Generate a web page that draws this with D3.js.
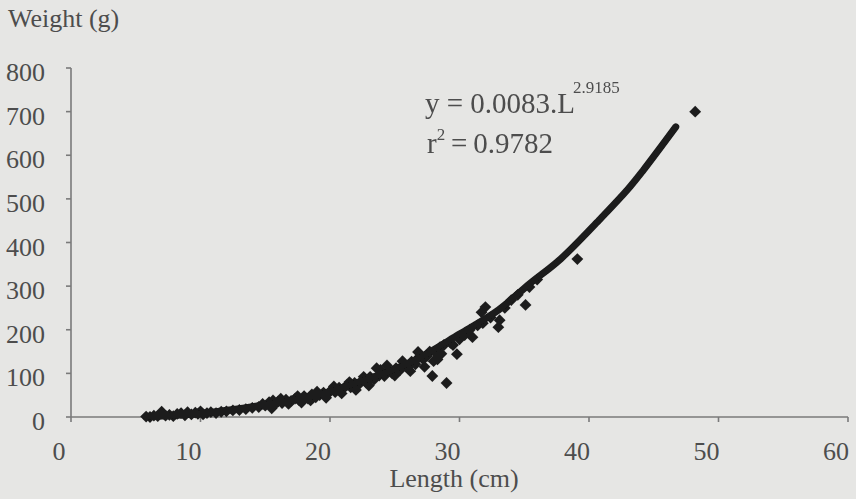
<!DOCTYPE html>
<html>
<head>
<meta charset="utf-8">
<script src="https://cdn.jsdelivr.net/npm/d3@7"></script>
<style>
    body { margin: 0; background: #e6e6e4; }
    text { font-family: "Liberation Serif", "Times New Roman", serif; fill: #4d4d4d; }
</style>
</head>
<body>
<div id="svg-area"></div>
<script>
// observed fish, length (cm) and weight (g)
const lengths = [
    5.8, 6.1, 6.4, 6.7, 7.0, 7.3, 7.6, 7.9, 8.2, 8.5,
    8.8, 9.0, 9.3, 9.6, 9.8, 10.0, 10.2, 10.5, 10.8, 11.2,
    11.6, 12.0, 12.5, 13.0, 13.5, 14.0, 14.5, 15.0, 15.3, 15.6,
    15.8, 16.0, 16.3, 16.6, 17.0, 17.3, 17.6, 18.0, 18.3, 18.6,
    18.9, 19.2, 19.5, 19.8, 20.1, 20.4, 20.7, 21.0, 21.3, 21.6,
    21.9, 22.2, 22.5, 22.8, 23.1, 23.4, 23.6, 23.9, 24.2, 24.5,
    24.8, 25.1, 25.4, 25.7, 26.0, 26.3, 26.6, 26.8, 27.2, 27.5,
    27.7, 27.9, 28.0, 28.2, 28.5, 28.8, 29.0, 29.3, 29.8, 30.0,
    30.4, 31.0, 31.4, 31.7, 32.0, 32.4, 33.0, 33.1, 33.5, 34.0,
    34.5, 35.1, 35.4, 36.0, 39.1, 48.2,
    14.8, 15.5, 16.2, 16.8, 17.5, 17.8, 18.5, 19.0, 19.7, 20.3,
    20.9, 21.5, 22.0, 22.6, 23.0, 23.8, 24.4, 25.0, 25.6, 26.2,
    26.9, 27.3, 28.3, 28.6, 29.5, 30.8, 31.8
]
const weights = [
    1, 0, 3, 2, 12, 3, 5, 2, 7, 9,
    4, 11, 6, 10, 7, 13, 6, 9, 11, 9,
    12, 13, 15, 16, 18, 21, 23, 26, 34, 38,
    30, 36, 32, 40, 37, 42, 39, 48, 42, 52,
    45, 50, 56, 52, 62, 57, 67, 64, 73, 68,
    78, 74, 84, 79, 92, 86, 112, 108, 94, 105,
    100, 112, 107, 120, 114, 127, 121, 149, 132, 140,
    150, 94, 128, 146, 160, 165, 78, 170, 144, 178,
    188, 183, 210, 240, 252, 228, 206, 222, 250, 268,
    280, 257, 298, 315, 362, 700,
    30, 20, 42, 30, 48, 33, 38, 58, 44, 70,
    54, 80, 62, 92, 72, 95, 118, 95, 128, 105,
    138, 115, 132, 145, 165, 200, 215
]

// fitted power curve
const fitLengths = [5.8, 10, 15, 19, 22.5, 26.2, 30, 33, 35.4, 37.8, 40.8, 43, 44.2, 46.7]
const fitWeights = [1, 8, 28, 50, 83, 125, 190, 245, 305, 362, 452, 522, 566, 665]

const xTicks = [0, 10, 20, 30, 40, 50, 60]
const yTicks = [0, 100, 200, 300, 400, 500, 600, 700, 800]

const width = 856,
    height = 499

const svg = d3.select("#svg-area").append("svg")
        .attr("width", width)
        .attr("height", height)

svg.append("defs").append("filter")
        .attr("id", "soft")
        .append("feGaussianBlur")
        .attr("stdDeviation", 0.6)

const x = d3.scaleLinear().domain([0, 60]).range([71, 848])
const y = d3.scaleLinear().domain([0, 800]).range([417, 68])

const axisColor = "#7a7a7a"

// y axis
svg.append("line")
        .attr("x1", x(0)).attr("x2", x(0))
        .attr("y1", y(800)).attr("y2", y(0))
        .attr("stroke", axisColor).attr("stroke-width", 1.6)
svg.selectAll(".ytick")
        .data(yTicks)
        .enter()
        .append("line")
        .attr("x1", x(0) - 5).attr("x2", x(0))
        .attr("y1", d => y(d)).attr("y2", d => y(d))
        .attr("stroke", axisColor).attr("stroke-width", 1.6)
svg.selectAll(".ylabel")
        .data(yTicks)
        .enter()
        .append("text")
        .attr("x", 45)
        .attr("y", d => y(d) + 13)
        .attr("text-anchor", "end")
        .attr("font-size", 26)
        .text(d => d)

// x axis
svg.append("line")
        .attr("x1", x(0)).attr("x2", x(60))
        .attr("y1", y(0)).attr("y2", y(0))
        .attr("stroke", axisColor).attr("stroke-width", 1.6)
svg.selectAll(".xtick")
        .data(xTicks)
        .enter()
        .append("line")
        .attr("x1", d => x(d)).attr("x2", d => x(d))
        .attr("y1", y(0)).attr("y2", y(0) + 5)
        .attr("stroke", axisColor).attr("stroke-width", 1.6)
svg.selectAll(".xlabel")
        .data(xTicks)
        .enter()
        .append("text")
        .attr("x", d => x(d) - 12)
        .attr("y", 460)
        .attr("text-anchor", "middle")
        .attr("font-size", 26)
        .text(d => d)

svg.append("text")
        .attr("x", 454).attr("y", 487)
        .attr("text-anchor", "middle")
        .attr("font-size", 26)
        .text("Length (cm)")
svg.append("text")
        .attr("x", 8).attr("y", 27)
        .attr("font-size", 26)
        .text("Weight (g)")

// points and trend line share the soft scanned look
const marks = svg.append("g").attr("filter", "url(#soft)")

const points = lengths.map((l, i) => ({ length: l, weight: weights[i] }))
marks.selectAll(".pt")
        .data(points)
        .enter()
        .append("path")
        .attr("d", d3.symbol(d3.symbolSquare, 70))
        .attr("transform", d => `translate(${x(d.length)},${y(d.weight)}) rotate(45)`)
        .attr("fill", "#1e1e1e")

const fit = fitLengths.map((l, i) => [l, fitWeights[i]])
marks.append("path")
        .datum(fit)
        .attr("d", d3.line().x(d => x(d[0])).y(d => y(d[1])).curve(d3.curveCatmullRom))
        .attr("fill", "none")
        .attr("stroke", "#1a1a1a")
        .attr("stroke-width", 7)
        .attr("stroke-linecap", "round")

// equation
const eq = svg.append("text").attr("x", 425).attr("y", 113).attr("font-size", 29)
eq.append("tspan").text("y = 0.0083.L")
eq.append("tspan").attr("dx", -2).attr("dy", -20).attr("font-size", 17).text("2.9185")

const r2 = svg.append("text").attr("x", 427).attr("y", 153).attr("font-size", 29)
r2.append("tspan").text("r")
r2.append("tspan").attr("dy", -13).attr("font-size", 17).text("2")
r2.append("tspan").attr("dy", 13).text("\u2009=\u20090.9782")
</script>
</body>
</html>
